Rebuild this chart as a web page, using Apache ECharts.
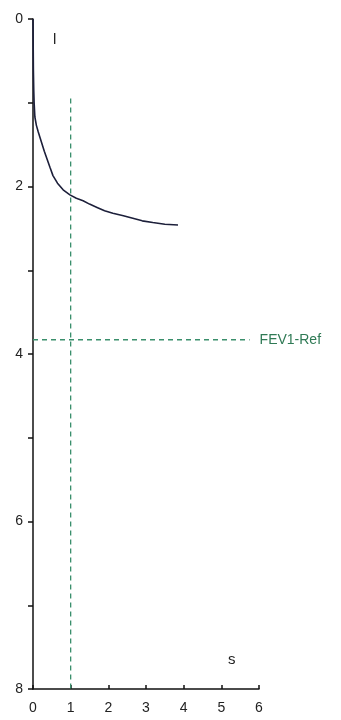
<!DOCTYPE html>
<html><head><meta charset="utf-8">
<script src="https://cdn.jsdelivr.net/npm/echarts@6/dist/echarts.min.js"></script>
<style>html,body{margin:0;padding:0;background:#fff}#c{width:341px;height:720px}</style>
</head><body><div id="c"></div>
<script>
const curveX = [0, 0.005, 0.01, 0.02, 0.03, 0.05, 0.09, 0.14, 0.19, 0.3, 0.45, 0.53, 0.65, 0.8, 0.98, 1.15, 1.33, 1.5, 1.7, 1.9, 2.12, 2.4, 2.65, 2.9, 3.18, 3.5, 3.85];
const curveY = [0, 0.3, 0.6, 0.85, 1.0, 1.17, 1.27, 1.35, 1.42, 1.58, 1.77, 1.87, 1.96, 2.04, 2.10, 2.14, 2.17, 2.21, 2.25, 2.29, 2.32, 2.35, 2.38, 2.41, 2.43, 2.45, 2.46];
const refTimeX = [1, 1];
const refTimeY = [0.95, 8];
const fevRefX = [0, 5.75];
const fevRefY = [3.83, 3.83];
const fevRefLabel = 'FEV1-Ref';
const yTickLabels = ['0', '', '2', '', '4', '', '6', '', '8'];
const xTickLabels = ['0', '1', '2', '3', '4', '5', '6'];

const pairs = (xs, ys) => xs.map((x, i) => [x, ys[i]]);
const chart = echarts.init(document.getElementById('c'));
const font = 'Liberation Sans, Arial, sans-serif';
chart.setOption({
  animation: false,
  grid: { left: 33, top: 19, width: 226, height: 670 },
  xAxis: {
    type: 'value', min: 0, max: 6, interval: 1, position: 'bottom',
    axisLine: { onZero: false, lineStyle: { color: '#111', width: 1.5 } },
    axisTick: { inside: true, length: 4, lineStyle: { color: '#111', width: 1.5 } },
    axisLabel: { color: '#222', fontSize: 14, fontFamily: font, margin: 12,
      formatter: v => xTickLabels[Math.round(v)] },
    splitLine: { show: false }
  },
  yAxis: {
    type: 'value', min: 0, max: 8, interval: 1, inverse: true,
    axisLine: { show: true, onZero: false, lineStyle: { color: '#111', width: 1.5 } },
    axisTick: { show: true, length: 5, lineStyle: { color: '#111', width: 1.5 } },
    axisLabel: { color: '#222', fontSize: 14, fontFamily: font, margin: 10,
      formatter: v => yTickLabels[Math.round(v)] },
    splitLine: { show: false }
  },
  graphic: [
    { type: 'text', left: 53, top: 32, style: { text: 'l', fontSize: 15, fontFamily: font, fill: '#222' } },
    { type: 'text', left: 228, top: 652, style: { text: 's', fontSize: 15, fontFamily: font, fill: '#222' } }
  ],
  series: [
    { type: 'line', data: pairs(refTimeX, refTimeY), showSymbol: false, silent: true,
      lineStyle: { color: '#3a8f6c', width: 1.3, type: [5, 4] } },
    { type: 'line', data: pairs(fevRefX, fevRefY), showSymbol: false, silent: true,
      lineStyle: { color: '#3a8f6c', width: 1.3, type: [5, 4] },
      endLabel: { show: true, formatter: fevRefLabel, color: '#2f7a55', fontSize: 14, fontFamily: font, distance: 10 } },
    { type: 'line', data: pairs(curveX, curveY), showSymbol: false, smooth: false, silent: true,
      lineStyle: { color: '#1c1f3a', width: 1.6 } }
  ]
});
</script></body></html>
